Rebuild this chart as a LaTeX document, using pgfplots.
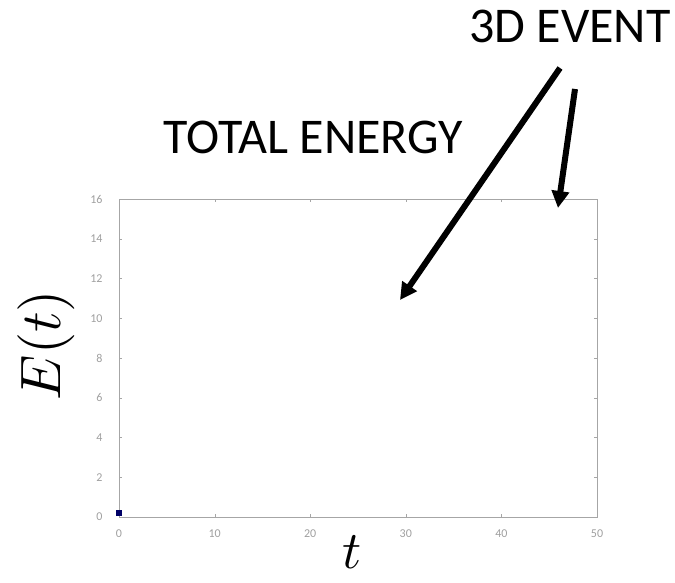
\documentclass[border=0pt]{standalone}
\usepackage{pgfplots}
\pgfplotsset{compat=1.18}
\usepackage{graphicx}
\usepackage{fontspec}
\setmainfont{Carlito}
\usetikzlibrary{arrows.meta}
\begin{document}
\begin{tikzpicture}[x=1pt,y=1pt]
\useasboundingbox (0,0) rectangle (675,582);
\begin{axis}[
  at={(119pt,65pt)}, anchor=south west,
  scale only axis, width=478pt, height=318pt,
  xmin=0, xmax=50, ymin=0, ymax=16,
  xtick={0,10,...,50}, ytick={0,2,...,16},
  axis line style={gray!70, line width=1pt},
  tick style={gray!70},
  major tick length=3pt,
  tick label style={font=\fontsize{12}{13}\selectfont, text=gray!75},
  /pgf/number format/assume math mode=true,
  xticklabel style={yshift=-9pt},
  yticklabel style={xshift=-13pt},
]
\addplot[only marks, mark=square*, mark size=2.5pt, color=blue!40!black] coordinates {(0,0.2)};
\end{axis}
\node[font=\fontsize{50}{56}\selectfont] at (313,445) {TOTAL ENERGY};
\node[font=\fontsize{50}{56}\selectfont] at (570,556) {3D EVENT};
\node[rotate=90] at (46,237) {\scalebox{5.7}{$E(t)$}};
\node at (352,30) {\scalebox{5.3}{$t$}};
\draw[line width=6pt, -{Triangle[length=17pt,width=17pt]}] (560,514) -- (400,282);
\draw[line width=6pt, -{Triangle[length=17pt,width=17pt]}] (575,493) -- (558,374);
\end{tikzpicture}
\end{document}
